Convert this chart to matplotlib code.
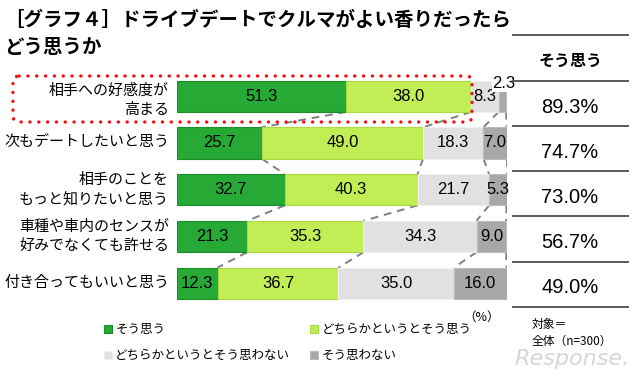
import matplotlib
matplotlib.use('Agg')
import matplotlib.pyplot as plt
from matplotlib.patches import FancyBboxPatch

plt.rcParams['font.family'] = ['Noto Sans CJK JP', 'DejaVu Sans']

# data (%)
items = ['相手への好感度が\n高まる', '次もデートしたいと思う',
         '相手のことを\nもっと知りたいと思う',
         '車種や車内のセンスが\n好みでなくても許せる', '付き合ってもいいと思う']
agree = [51.3, 25.7, 32.7, 21.3, 12.3]
somewhat_agree = [38.0, 49.0, 40.3, 35.3, 36.7]
somewhat_disagree = [8.3, 18.3, 21.7, 34.3, 35.0]
disagree = [2.3, 7.0, 5.3, 9.0, 16.0]
agree_total = [89.3, 74.7, 73.0, 56.7, 49.0]
series_names = ['そう思う', 'どちらかというとそう思う',
                'どちらかというとそう思わない', 'そう思わない']

colors = ['#27a935', '#c1ee54', '#e1e1e1', '#a8a8a8']
edges = ['#1e8c2a', '#aad944', '#f0f0f0', '#bcbcbd']
num_font = 'Liberation Sans'

W, H = 640, 374
fig = plt.figure(figsize=(W / 100, H / 100), dpi=100)

# bar axes: 0% at x=177px, 100% at x=506.5px, rows 72.8..306.7px
ax = fig.add_axes([177 / W, 1 - 306.7 / H, 329.5 / W, (306.7 - 72.8) / H])
series = [agree, somewhat_agree, somewhat_disagree, disagree]
bar_h = 0.67
ypos = list(range(len(items)))
left = [0.0] * len(items)
bounds = []
bars = []
for k, vals in enumerate(series):
    b = ax.barh(ypos, vals, left=left, height=bar_h, color=colors[k],
                edgecolor=edges[k], linewidth=0.8, label=series_names[k], zorder=2)
    bars.append(b)
    for i, v in enumerate(vals):
        if i == 0 and k == 3:
            ax.text(left[i] + v / 2 + 0.5, i - 0.27, f'{v:.1f}', ha='center', va='center',
                    fontsize=12, family=num_font, zorder=4,
                    bbox=dict(facecolor='white', edgecolor='none', pad=0.5))
        else:
            ax.text(left[i] + v / 2, i, f'{v:.1f}', ha='center', va='center',
                    fontsize=12, family=num_font, zorder=3)
    left = [l + v for l, v in zip(left, vals)]
    bounds.append(list(left))

# series connector lines
for cum in bounds:
    for i in range(len(items) - 1):
        ax.plot([cum[i], cum[i + 1]], [i + bar_h / 2, i + 1 - bar_h / 2],
                color='#808080', lw=1.4, ls=(0, (4, 3)), zorder=1)

ax.set_xlim(0, 100)
ax.set_ylim(len(items) - 0.5, -0.5)
ax.set_xticks([])
ax.set_yticks([])
# category labels, right aligned just left of the bars
for i, name in enumerate(items):
    ax.text(-8 / 329.5, i + (0.08 if i == 0 else 0), name, transform=ax.get_yaxis_transform(),
            ha='right', va='center', fontsize=10.8, linespacing=1.45, multialignment='right')
for s in ax.spines.values():
    s.set_visible(False)
ax.patch.set_alpha(0)

# overlay in pixel coordinates for annotations
ov = fig.add_axes([0, 0, 1, 1], zorder=10)
ov.set_xlim(0, W)
ov.set_ylim(H, 0)
ov.axis('off')
ov.patch.set_alpha(0)

ov.text(4, 20, '［グラフ４］ドライブデートでクルマがよい香りだったら', fontsize=14,
        weight='bold', va='center', ha='left')
ov.text(4, 47, 'どう思うか', fontsize=14, weight='bold', va='center', ha='left')

# red dotted highlight around first row
box = FancyBboxPatch((13, 76), 459, 46, boxstyle='round,pad=0,rounding_size=6',
                     fill=False, edgecolor='#ee1111', linewidth=2.4,
                     linestyle=(0, (0.05, 2.6)), capstyle='round')
ov.add_patch(box)

# right summary column
for y in [35, 80.7, 125.7, 171, 215.7, 261.7, 306.7]:
    ov.plot([513, 628], [y, y], color='#5a5a5a', lw=1.4)
ov.text(571, 61, 'そう思う', fontsize=11.5, weight='bold', ha='center', va='center')
for i, t in enumerate(agree_total):
    ov.text(570, 107.5 + 45 * i, f'{t:.1f}%', fontsize=14.5, family=num_font,
            ha='center', va='center')

ov.text(482, 317, '（%）', fontsize=9, ha='center', va='center')
ov.text(532, 324, '対象＝', fontsize=8.5, ha='left', va='center')
ov.text(532, 341, '全体（n=300）', fontsize=8.5, ha='left', va='center')
ov.text(572, 359, 'Response.', fontsize=16, family='DejaVu Sans', style='italic',
        color='#d6d6d6', ha='center', va='center', zorder=0)

handles = [bars[0], bars[2], bars[1], bars[3]]
labels = [series_names[0], series_names[2], series_names[1], series_names[3]]
ov.legend(handles, labels, ncol=2, loc='upper left', bbox_to_anchor=(104, 323),
          bbox_transform=ov.transData, frameon=False, fontsize=9,
          handlelength=0.6, handleheight=0.6, handletextpad=0.3,
          labelspacing=1.05, columnspacing=1.6, borderpad=0, borderaxespad=0)

fig.savefig('out.png', dpi=100)
